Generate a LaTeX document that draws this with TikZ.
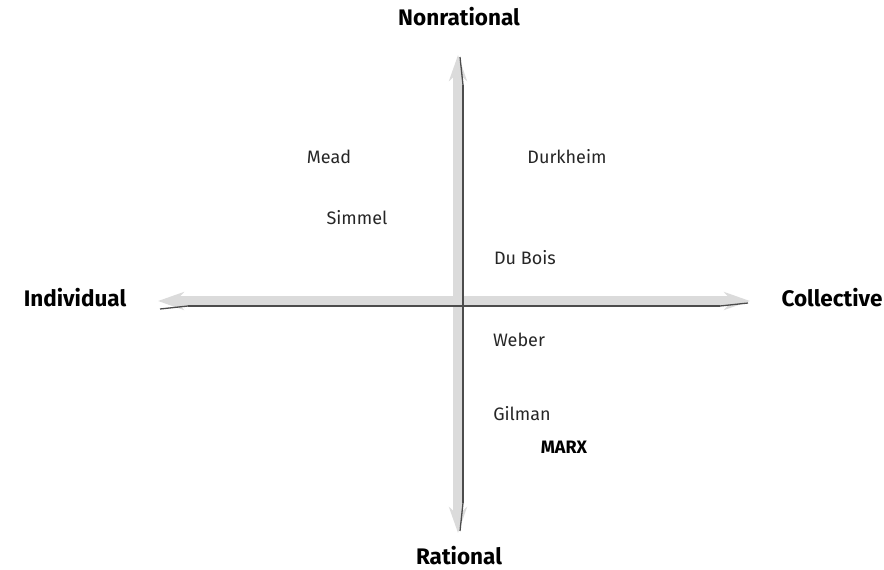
\documentclass[tikz,border=0pt]{standalone}
\usepackage{fontspec}
\setmainfont{Fira Sans}
\usetikzlibrary{arrows.meta}
\begin{document}
\begin{tikzpicture}[x=1pt,y=-1pt,
    thinker/.style={font=\fontsize{18}{20}\selectfont,text=black!85},
    pole/.style={font=\fontsize{22.5}{26}\selectfont\bfseries},
    band/.style={line width=10pt,gray!28,{Stealth[length=26pt,width=18pt]}-{Stealth[length=26pt,width=18pt]}},
    rule/.style={line width=1.3pt,black!70}]
  \useasboundingbox (0,0) rectangle (884,570);
  \draw
    (459,17) node[pole] (nonrational){Nonrational}
    (459,556) node[pole] (rational){Rational}
    (75,298) node[pole] (individual){Individual}
    (832,298) node[pole] (collective){Collective}
    (329,157) node[thinker] (mead){Mead}
    (567,157) node[thinker] (durkheim){Durkheim}
    (357,218) node[thinker] (simmel){Simmel}
    (525,258) node[thinker] (dubois){Du Bois}
    (519,340) node[thinker] (weber){Weber}
    (522,414) node[thinker] (gilman){Gilman}
    (564,447) node[font=\fontsize{18}{20}\selectfont\bfseries] (marx){MARX};
  \coordinate (west) at (158,301);
  \coordinate (east) at (750,301);
  \coordinate (north) at (458,55);
  \coordinate (south) at (458,533);
  \draw[band] (west) -- (east);
  \draw[band] (north) -- (south);
  \begin{scope}[rule]
    \draw ([shift={(30,5)}]west) -- ([shift={(-30,5)}]east);
    \draw ([shift={(5,30)}]north) -- ([shift={(5,-30)}]south);
    \draw ([shift={(30,5)}]west) -- ([shift={(2,8)}]west);
    \draw ([shift={(-30,5)}]east) -- ([shift={(-2,2)}]east);
    \draw ([shift={(5,30)}]north) -- ([shift={(2,2)}]north);
    \draw ([shift={(5,-30)}]south) -- ([shift={(2,-2)}]south);
  \end{scope}
\end{tikzpicture}
\end{document}
